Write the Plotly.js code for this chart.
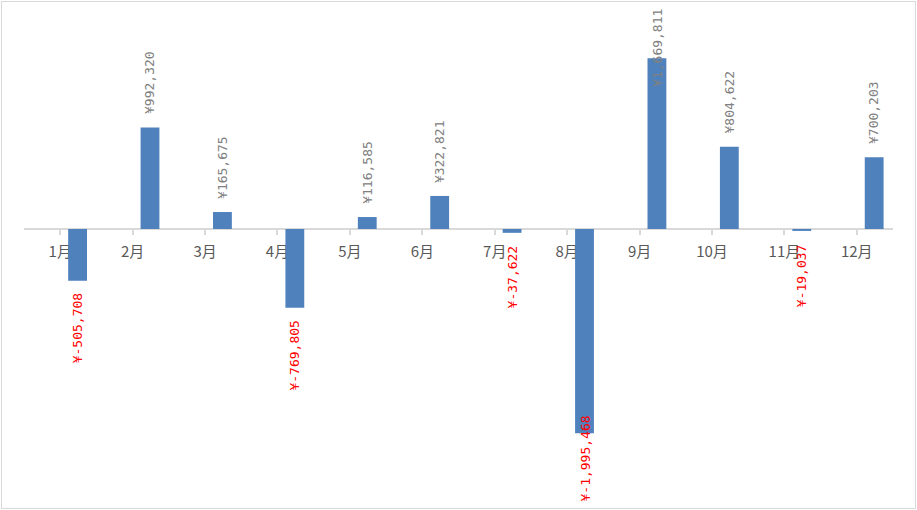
<!DOCTYPE html>
<html>
<head>
<meta charset="utf-8">
<script src="https://cdn.plot.ly/plotly-3.0.1.min.js"></script>
<style>
  body { margin: 0; background: #fff; }
  #wrap { position: relative; width: 917px; height: 510px; }
  #frame { position: absolute; left: 1px; top: 1px; width: 913px; height: 506px;
           border: 1px solid #d9d9d9; pointer-events: none; }
</style>
</head>
<body>
<div id="wrap">
  <div id="chart" style="width:917px;height:510px;"></div>
  <div id="frame"></div>
</div>
<script>
// 月ごとの値
var months = ['1月', '2月', '3月', '4月', '5月', '6月', '7月', '8月', '9月', '10月', '11月', '12月'];
var values = [-505708, 992320, 165675, -769805, 116585, 322821, -37622, -1995468, 1669811, 804622, -19037, 700203];

// 軸の範囲 (ゼロ線が y=229 付近に来るように)
var yMin = -2698000;
var yMax = 2160000;
var plotHeight = 510 - 8 - 5;
var pxPerUnit = plotHeight / (yMax - yMin);

var barOffset = 0.11;
var barWidth = 0.26;

function fmt(v) {
  return '¥' + v.toLocaleString('en-US');
}

var bars = {
  x: months.map(function (m, i) { return i; }),
  y: values,
  type: 'bar',
  width: barWidth,
  offset: barOffset,
  marker: { color: '#4f81bd' },
  hoverinfo: 'none'
};

// データラベル (縦書き, はみ出すものは端に寄せる)
var gap = 12;
var annotations = values.map(function (v, i) {
  var txt = fmt(v);
  var lenPx = txt.length * 7.8;
  var ann = {
    x: i + barOffset + barWidth / 2,
    xref: 'x', yref: 'y',
    text: txt,
    textangle: -90,
    showarrow: false,
    borderpad: 0,
    font: { family: 'DejaVu Sans Mono, monospace', size: 13, color: v < 0 ? '#ff0000' : '#808080' }
  };
  if (v >= 0) {
    var top = v + (gap + lenPx) / pxPerUnit;
    if (top > yMax) { ann.y = yMax; ann.yanchor = 'top'; }
    else { ann.y = v; ann.yanchor = 'bottom'; ann.yshift = gap; }
  } else {
    var bottom = v - (gap + lenPx) / pxPerUnit;
    if (bottom < yMin) { ann.y = yMin; ann.yanchor = 'bottom'; ann.yshift = 2; }
    else { ann.y = v; ann.yanchor = 'top'; ann.yshift = -gap; }
  }
  return ann;
});

var layout = {
  width: 917,
  height: 510,
  margin: { l: 24, r: 24, t: 8, b: 5 },
  paper_bgcolor: '#ffffff',
  plot_bgcolor: '#ffffff',
  showlegend: false,
  xaxis: {
    type: 'linear',
    range: [-0.5, 11.5],
    tickmode: 'array',
    tickvals: months.map(function (m, i) { return i; }),
    ticktext: months,
    anchor: 'free',
    position: (0 - yMin) / (yMax - yMin),
    showline: true,
    linecolor: '#d9d9d9',
    linewidth: 2,
    showgrid: false,
    zeroline: false,
    ticks: 'outside',
    ticklen: 5,
    tickcolor: '#d9d9d9',
    tickwidth: 2,
    ticklabelstandoff: 4,
    layer: 'below traces',
    tickfont: { family: 'Noto Sans CJK JP, sans-serif', size: 15, color: '#595959' }
  },
  yaxis: {
    range: [yMin, yMax],
    showgrid: false,
    zeroline: false,
    showticklabels: false,
    ticks: ''
  },
  annotations: annotations
};

Plotly.newPlot('chart', [bars], layout, { displayModeBar: false, staticPlot: true });
</script>
</body>
</html>
